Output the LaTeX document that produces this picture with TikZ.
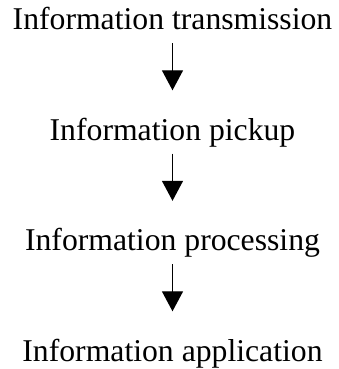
\documentclass[tikz,border=0pt]{standalone}
\usepackage{fontspec}
\setmainfont{Liberation Serif}
\usetikzlibrary{arrows.meta,positioning}

\tikzstyle{stage} = [rectangle, text centered, text height=21pt, text depth=7pt,
inner sep=6pt, font=\fontsize{31.7}{36}\selectfont]
\tikzstyle{arrow} = [line width=1.4pt,-{Triangle[width=21pt,length=20pt]}, shorten >=23pt]

\begin{document}
\begin{tikzpicture}[node distance=110.5pt]
			\useasboundingbox (0,0) rectangle (339pt,369pt);
			\node (transmission) [stage] at (172.5pt,346pt) {Information transmission};
			\node (pickup) [stage, below of=transmission] {Information pickup};
			\node (processing) [stage, below of=pickup] {Information processing};
			\node (application) [stage, below of=processing] {Information application};
			
			\draw [arrow] (transmission) -- (pickup);
			\draw [arrow] (pickup) -- (processing);
			\draw [arrow] (processing) -- (application);
			
		\end{tikzpicture}
\end{document}
